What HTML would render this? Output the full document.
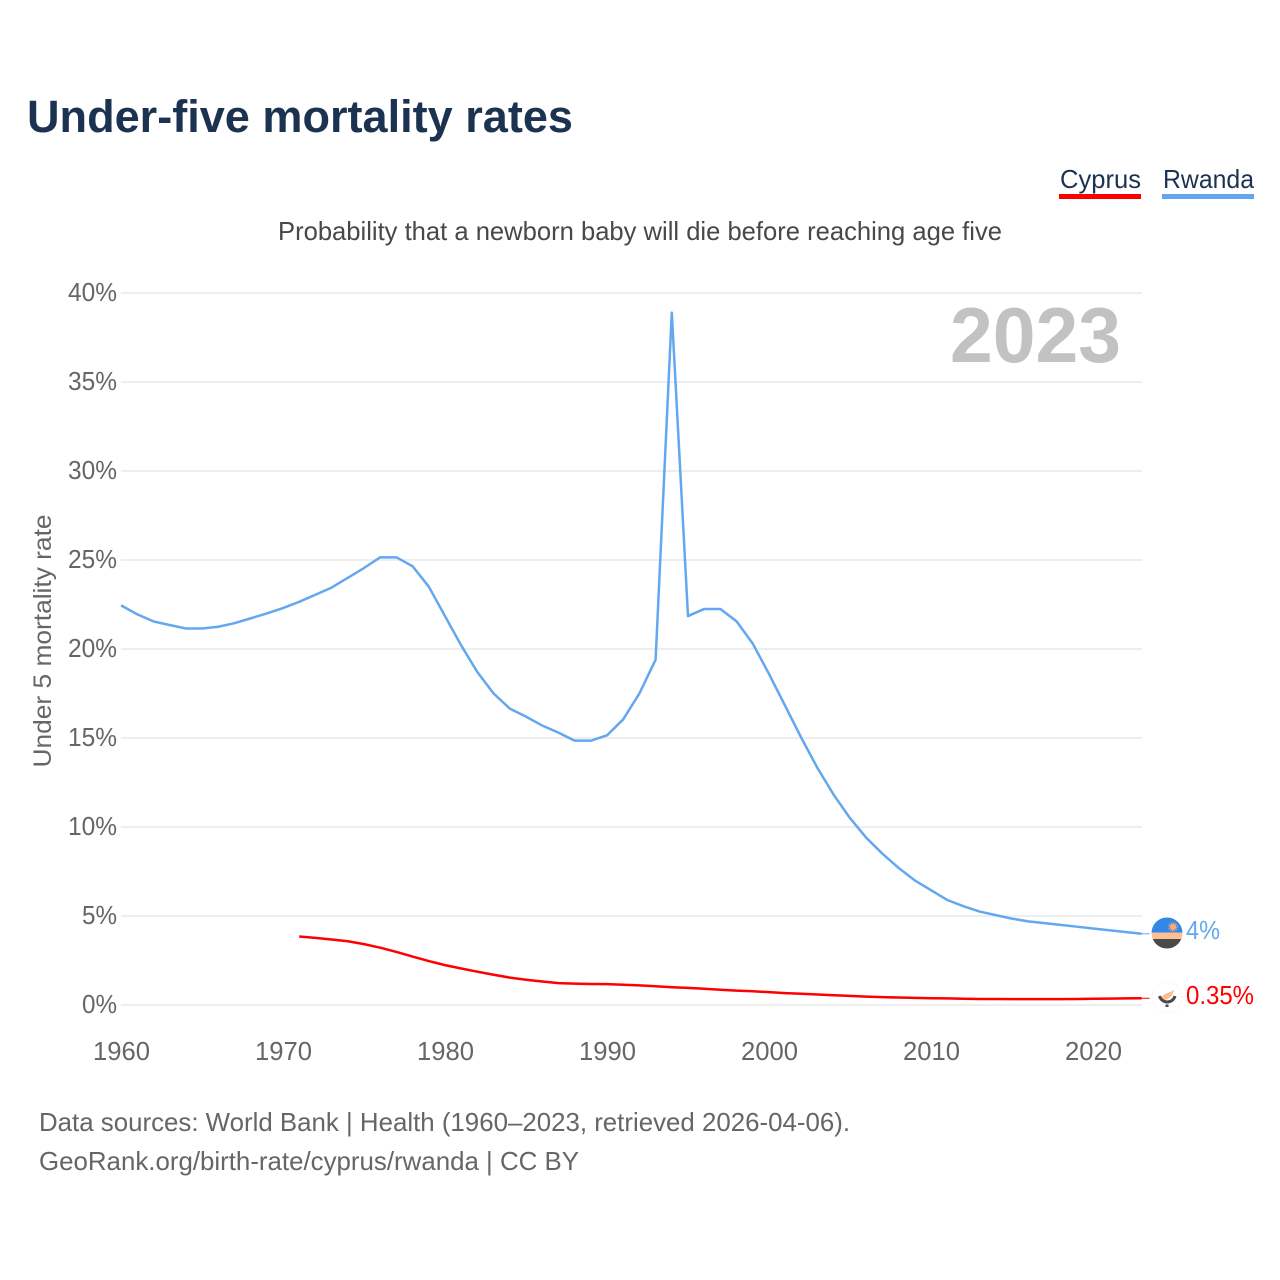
<!DOCTYPE html>
<html lang="en">
<head>
<meta charset="utf-8">
<title>Under-five mortality rates</title>
<style>
html,body{margin:0;padding:0;background:#fff;}
svg{display:block;}
text{font-family:"Liberation Sans",sans-serif;}
</style>
</head>
<body>
<svg id="chart" width="1280" height="1280" viewBox="0 0 1280 1280" xmlns="http://www.w3.org/2000/svg">
  <text x="27" y="132" font-size="45" font-weight="700" fill="#1b3351" textLength="546" lengthAdjust="spacingAndGlyphs">Under-five mortality rates</text>

  <g>
    <g>
      <text x="1060" y="188" font-size="26" fill="#1b3351" textLength="81" lengthAdjust="spacingAndGlyphs">Cyprus</text>
      <rect x="1059" y="194" width="82" height="5" fill="#ff0000"/>
    </g>
    <g>
      <text x="1163" y="188" font-size="26" fill="#1b3351" textLength="91" lengthAdjust="spacingAndGlyphs">Rwanda</text>
      <rect x="1162" y="194" width="92" height="5" fill="#63a8ee"/>
    </g>
  </g>

  <text x="278" y="240" font-size="26" fill="#484848" textLength="724" lengthAdjust="spacingAndGlyphs">Probability that a newborn baby will die before reaching age five</text>

  <g id="grid"></g>
  <g id="yticks"></g>
  <g id="xticks"></g>

  <text transform="translate(51 641) rotate(-90)" text-anchor="middle" font-size="25" fill="#666666" textLength="253" lengthAdjust="spacingAndGlyphs">Under 5 mortality rate</text>

  <text x="950" y="362" font-size="78" font-weight="700" fill="#c2c2c2" textLength="171" lengthAdjust="spacingAndGlyphs">2023</text>

  <g id="series"></g>

  <g>
    <clipPath id="rw-clip"><circle cx="1167" cy="933" r="15.5"/></clipPath>
    <g clip-path="url(#rw-clip)">
      <rect x="1150" y="915" width="34" height="17.5" fill="#3387e6"/>
      <rect x="1150" y="932.5" width="34" height="6.5" fill="#ffbe94"/>
      <rect x="1150" y="939" width="34" height="12" fill="#4a4a4a"/>
    </g>
    <circle cx="1173" cy="927" r="3.2" fill="#ffa877"/>
    <circle cx="1173" cy="927" r="4.2" fill="none" stroke="#ffa877" stroke-width="1.2" stroke-dasharray="1.2 1"/>
  </g>
  <text id="label-rwanda" x="1186" y="939" font-size="26" fill="#63a8ee" textLength="34" lengthAdjust="spacingAndGlyphs">4%</text>

  <g>
    <circle cx="1167" cy="997" r="15" fill="#ffffff" stroke="#e6e6e6" stroke-width="0.8" stroke-dasharray="1 2"/>
    <path d="M1162 996.5 C1165 993 1170 993 1174 989.5 C1173.5 994 1170 999 1164 1000.5 C1162.5 999.5 1161.8 998 1162 996.5 Z" fill="#ffbb90"/>
    <path d="M1159.5 996 A8 8 0 0 0 1175 996" fill="none" stroke="#4a4a4a" stroke-width="3"/>
    <rect x="1165.5" y="1004.5" width="3" height="2.5" fill="#4a4a4a"/>
  </g>
  <text id="label-cyprus" x="1186" y="1004" font-size="26" fill="#ff0000" textLength="68" lengthAdjust="spacingAndGlyphs">0.35%</text>

  <text x="39" y="1131" font-size="26" fill="#666666" textLength="811" lengthAdjust="spacingAndGlyphs">Data sources: World Bank | Health (1960–2023, retrieved 2026-04-06).</text>
  <text x="39" y="1170" font-size="26" fill="#666666" textLength="540" lengthAdjust="spacingAndGlyphs">GeoRank.org/birth-rate/cyprus/rwanda | CC BY</text>
</svg>

<script>
var yTickValues = [0, 5, 10, 15, 20, 25, 30, 35, 40];
var xTickYears = [1960, 1970, 1980, 1990, 2000, 2010, 2020];

var rwandaYears = [1960,1961,1962,1963,1964,1965,1966,1967,1968,1969,1970,1971,1972,1973,1974,1975,1976,1977,1978,1979,1980,1981,1982,1983,1984,1985,1986,1987,1988,1989,1990,1991,1992,1993,1994,1995,1996,1997,1998,1999,2000,2001,2002,2003,2004,2005,2006,2007,2008,2009,2010,2011,2012,2013,2014,2015,2016,2017,2018,2019,2020,2021,2022,2023];
var rwandaValues = [22.45,21.95,21.55,21.35,21.15,21.15,21.25,21.45,21.72,22.0,22.3,22.65,23.05,23.45,24.0,24.55,25.15,25.15,24.65,23.5,21.85,20.2,18.7,17.5,16.65,16.2,15.7,15.3,14.85,14.85,15.15,16.05,17.5,19.4,38.9,21.85,22.25,22.25,21.55,20.3,18.6,16.8,15.0,13.3,11.8,10.5,9.4,8.5,7.7,7.0,6.45,5.9,5.55,5.25,5.05,4.85,4.7,4.6,4.5,4.4,4.3,4.2,4.1,4.0];

var cyprusYears = [1971,1972,1973,1974,1975,1976,1977,1978,1979,1980,1981,1982,1983,1984,1985,1986,1987,1988,1989,1990,1991,1992,1993,1994,1995,1996,1997,1998,1999,2000,2001,2002,2003,2004,2005,2006,2007,2008,2009,2010,2011,2012,2013,2014,2015,2016,2017,2018,2019,2020,2021,2022,2023];
var cyprusValues = [3.85,3.77,3.68,3.58,3.42,3.22,2.98,2.72,2.47,2.24,2.05,1.87,1.7,1.54,1.42,1.32,1.23,1.2,1.18,1.17,1.14,1.1,1.05,1.0,0.96,0.91,0.86,0.81,0.77,0.72,0.67,0.63,0.59,0.55,0.51,0.47,0.44,0.42,0.4,0.38,0.37,0.35,0.34,0.34,0.33,0.33,0.33,0.33,0.34,0.35,0.36,0.37,0.38];

var SVG_NS = 'http://www.w3.org/2000/svg';
function xScale(year) { return 121 + (year - 1960) * 16.2; }
function yScale(value) { return 1005 - value * 17.8; }
function make(tag, attrs) {
  var el = document.createElementNS(SVG_NS, tag);
  for (var k in attrs) { el.setAttribute(k, attrs[k]); }
  return el;
}

var gridGroup = document.getElementById('grid');
var yGroup = document.getElementById('yticks');
var xGroup = document.getElementById('xticks');
var seriesGroup = document.getElementById('series');

yTickValues.forEach(function (v) {
  var line = make('line', { x1: 121, x2: 1142, y1: yScale(v), y2: yScale(v), stroke: '#eeeeee', 'stroke-width': 2 });
  
  
  gridGroup.appendChild(line);

  var label = make('text', { x: 117, y: yScale(v) + 8, 'text-anchor': 'end', 'font-size': 26, fill: '#666666', textLength: v < 10 ? 35 : 49, lengthAdjust: 'spacingAndGlyphs' });
  
  
  label.textContent = v + '%';
  yGroup.appendChild(label);
});

xTickYears.forEach(function (yr) {
  var label = make('text', { x: xScale(yr) + 0.5, y: 1060, 'text-anchor': 'middle', 'font-size': 26, fill: '#666666', textLength: 57, lengthAdjust: 'spacingAndGlyphs' });
  
  
  label.textContent = String(yr);
  xGroup.appendChild(label);
});

function drawSeries(years, values, color, width, name) {
  var pts = years.map(function (yr, i) { return xScale(yr).toFixed(2) + ',' + yScale(values[i]).toFixed(2); });
  var poly = make('polyline', { points: pts.join(' '), fill: 'none', stroke: color, 'stroke-width': width, 'stroke-linejoin': 'round' });
  
  
  seriesGroup.appendChild(poly);

  var lastX = xScale(years[years.length - 1]);
  var lastY = yScale(values[values.length - 1]);
  var connector = make('line', { x1: lastX, y1: lastY, x2: lastX + 8, y2: lastY, stroke: color, 'stroke-width': 1 });
  
  
  seriesGroup.appendChild(connector);
}

drawSeries(rwandaYears, rwandaValues, '#63a8ee', 2.5, 'line-rwanda');
drawSeries(cyprusYears, cyprusValues, '#ff0000', 2.5, 'line-cyprus');
</script>
</body>
</html>
